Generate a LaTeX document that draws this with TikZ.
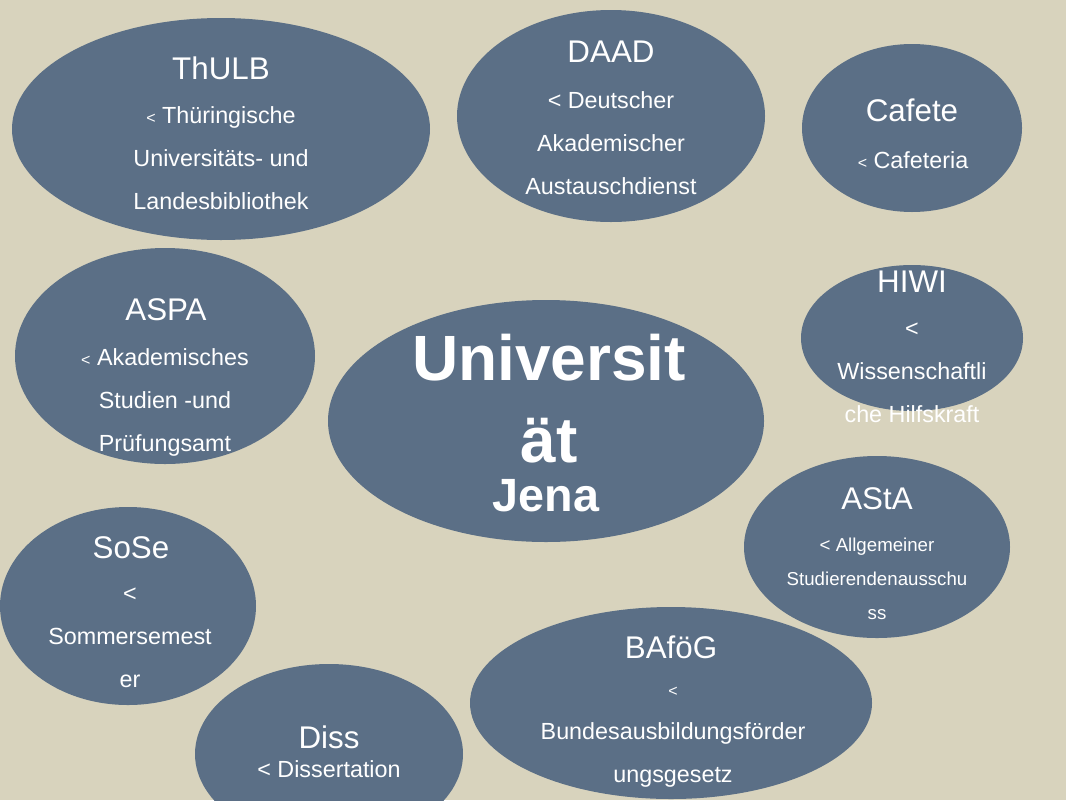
\documentclass[tikz,border=0pt]{standalone}
\usepackage{fontspec}
\setmainfont{Liberation Sans}
\usetikzlibrary{shapes.geometric, positioning}
\definecolor{paper}{RGB}{216,211,189}
\definecolor{bubble}{RGB}{91,111,134}
\newcommand{\smalllt}{{\fontsize{12}{12}\selectfont<}}

\begin{document}
\begin{tikzpicture}[ % one unit = one pixel of the slide
        x=0.75pt, y=-0.75pt,
        blob/.style 2 args={ellipse, fill=bubble, inner sep=0pt,
            minimum width=2*#1*0.75pt, minimum height=2*#2*0.75pt}, % filled ellipse, half axes in px
        every node/.style={text=white, align=center},
        headline/.style={font=\fontsize{23.5}{28}\selectfont},
        bodytext/.style={font=\fontsize{17.5}{32.25}\selectfont},
        smalltext/.style={font=\fontsize{14}{25.5}\selectfont}
    ]
    % --- Background ---
    \fill[paper] (0,0) rectangle (1066,800);
    \useasboundingbox (0,0) rectangle (1066,800);
    \clip (0,0) rectangle (1066,800);
    % --- Ellipses ---
    \node (thulb) [blob={209}{111}] at (221,129) {};
    \node (daad) [blob={154}{106}] at (611,116) {};
    \node (cafete) [blob={110}{84}] at (912,128) {};
    \node (aspa) [blob={150}{108}] at (165,356) {};
    \node (uni) [blob={218}{121}] at (546,421) {};
    \node (hiwi) [blob={111}{73}] at (912,338) {};
    \node (asta) [blob={133}{91}] at (877,547) {};
    \node (sose) [blob={128}{99}] at (128,606) {};
    \node (diss) [blob={134}{90}] at (329,754) {};
    \node (bafoeg) [blob={201}{96}] at (671,703) {};
    % --- Texts ---
    \node (thulb-t) [headline] at (221,68) {ThULB};
    \node (thulb-b) [bodytext] at (221,158) {\smalllt{} Thüringische\\Universitäts- und\\Landesbibliothek};
    \node (daad-t) [headline] at (611,52) {DAAD};
    \node (daad-b) [bodytext] at (611,143) {< Deutscher\\Akademischer\\Austauschdienst};
    \node (cafete-t) [headline] at (912,110) {Cafete};
    \node (cafete-b) [bodytext] at (913,160) {\smalllt{} Cafeteria};
    \node (aspa-t) [headline] at (166,310) {ASPA};
    \node (aspa-b) [bodytext] at (165,402) {\smalllt{} Akademisches\\Studien -und\\Prüfungsamt};
    \node (uni-t) [font=\bfseries\fontsize{48}{61.5}\selectfont] at (549,399) {Universit\\ät};
    \node (uni-b) [font=\bfseries\fontsize{35}{40}\selectfont] at (546,496) {Jena};
    \node (hiwi-t) [headline] at (912,282) {HIWI};
    \node (hiwi-b) [bodytext] at (912,373) {<\\Wissenschaftli\\che Hilfskraft};
    \node (asta-t) [headline] at (877,499) {AStA};
    \node (asta-b) [smalltext] at (877,579) {< Allgemeiner\\Studierendenausschu\\ss};
    \node (sose-t) [headline] at (131,548) {SoSe};
    \node (sose-b) [bodytext] at (130,638) {<\\Sommersemest\\er};
    \node (diss-t) [headline] at (329,737) {Diss};
    \node (diss-b) [bodytext] at (329,769) {< Dissertation};
    \node (bafoeg-t) [headline] at (671,647) {BAföG};
    \node (bafoeg-b) [bodytext] at (673,737) {\smalllt\\Bundesausbildungsförder\\ungsgesetz};
\end{tikzpicture}
\end{document}
